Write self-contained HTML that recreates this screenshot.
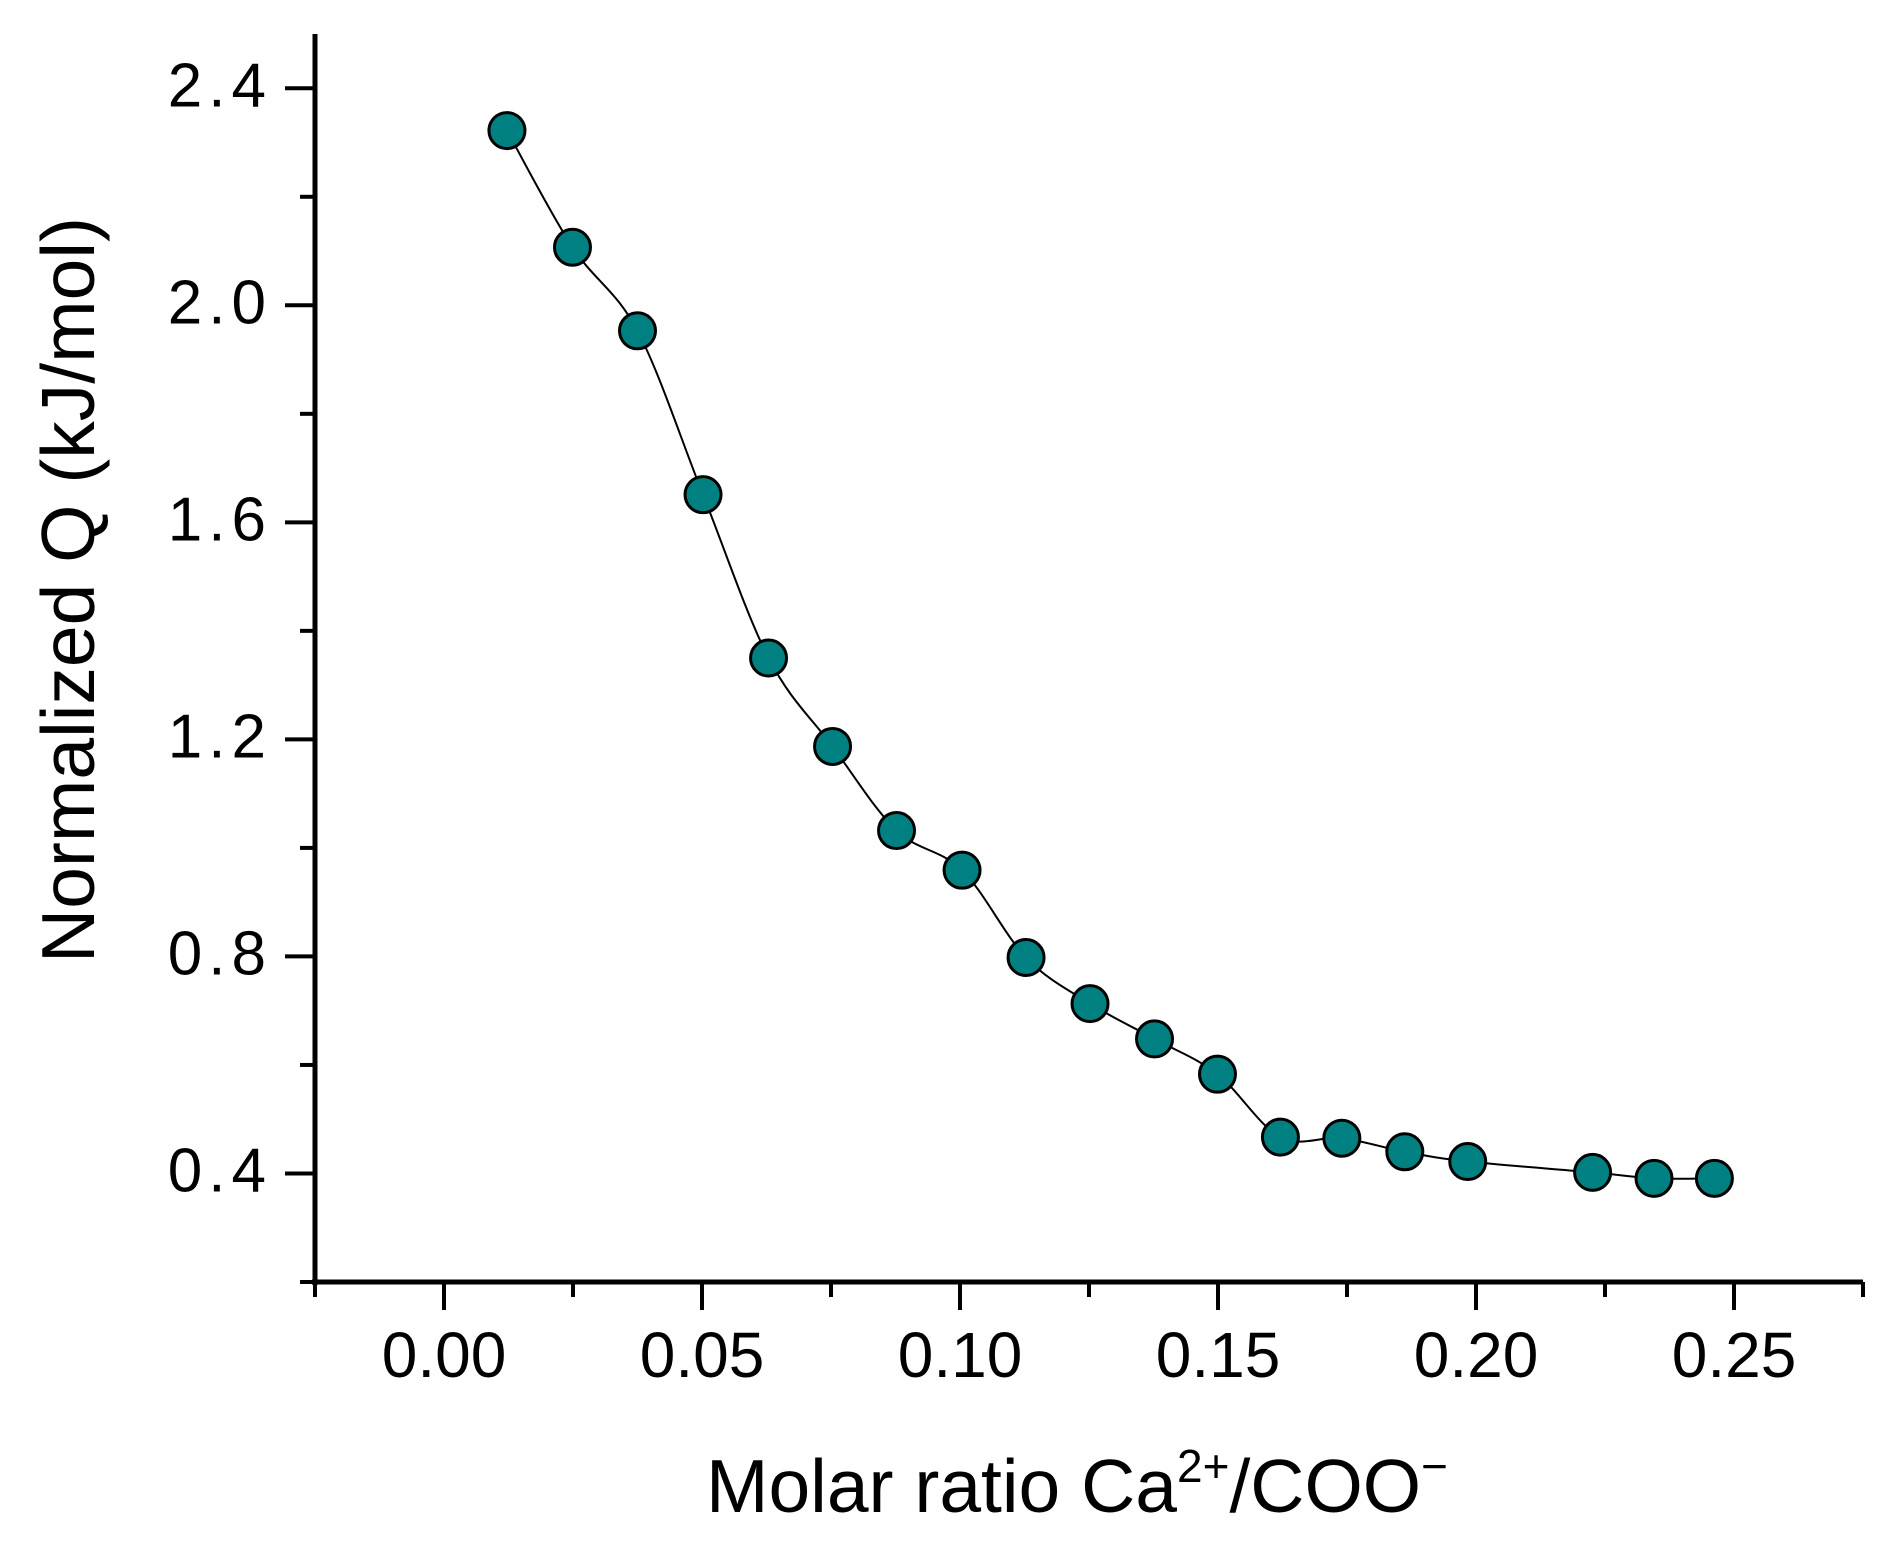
<!DOCTYPE html>
<html><head><meta charset="utf-8"><style>
html,body{margin:0;padding:0;background:#fff;}
svg text{font-family:"Liberation Sans",Arial,sans-serif;fill:#000;}
</style></head><body>
<svg id="chart" width="1897" height="1551" viewBox="0 0 1897 1551" xmlns="http://www.w3.org/2000/svg">
<g id="axes"></g>
<path id="curve" fill="none" stroke="#000" stroke-width="2"/>
<g id="pts"></g>
<text x="1077" y="1512" font-size="75" text-anchor="middle">Molar ratio Ca<tspan dy="-30" font-size="46">2+</tspan><tspan dy="30">/COO</tspan><tspan dy="-30" font-size="46">−</tspan></text>
<text transform="translate(94,590) rotate(-90)" font-size="75" text-anchor="middle">Normalized Q (kJ/mol)</text>
</svg>
<script>
const xData=[0.0122,0.0249,0.0375,0.0502,0.0629,0.0753,0.0877,0.1004,0.1128,0.1252,0.1377,0.1499,0.1621,0.174,0.1862,0.1984,0.2226,0.2345,0.2462];
const yData=[2.322,2.107,1.953,1.651,1.35,1.187,1.032,0.959,0.798,0.713,0.648,0.583,0.467,0.465,0.44,0.422,0.402,0.391,0.391];
const xTicks=[0,0.05,0.10,0.15,0.20,0.25];
const xTickLabels=["0.00","0.05","0.10","0.15","0.20","0.25"];
const yTicks=[0.4,0.8,1.2,1.6,2.0,2.4];
const yTickLabels=["0.4","0.8","1.2","1.6","2.0","2.4"];
const X0=315,X1=1863,Y0=1282,Y1=34,xmin=-0.025,xmax=0.275,ymin=0.2,ymax=2.5;
const sx=v=>X0+(v-xmin)/(xmax-xmin)*(X1-X0);
const sy=v=>Y0-(v-ymin)/(ymax-ymin)*(Y0-Y1);
const NS="http://www.w3.org/2000/svg";
const ax=document.getElementById('axes');
function mk(tag,at,parent){const e=document.createElementNS(NS,tag);for(const k in at)e.setAttribute(k,at[k]);parent.appendChild(e);return e;}
let e=mk('line',{x1:X0,y1:Y1,x2:X0,y2:Y0+3,stroke:'#000','stroke-width':5},ax);


e=mk('line',{x1:X0-3,y1:Y0,x2:X1,y2:Y0,stroke:'#000','stroke-width':5},ax);


for(let v=-0.025;v<=0.2751;v+=0.025){const major=Math.abs(Math.round(v/0.05)*0.05-v)<1e-6;
 e=mk('line',{x1:sx(v),y1:Y0,x2:sx(v),y2:Y0+(major?28:15),stroke:'#000','stroke-width':4},ax);
 
 }
xTicks.forEach((v,i)=>{e=mk('text',{x:sx(v),y:1377,'font-size':64,'text-anchor':'middle'},ax);e.textContent=xTickLabels[i];
 
 });
for(let v=0.2;v<=2.5001;v+=0.2){const major=Math.abs(Math.round((v-0.4)/0.4)*0.4-(v-0.4))<1e-6;
 e=mk('line',{x1:X0,y1:sy(v),x2:X0-(major?30:15),y2:sy(v),stroke:'#000','stroke-width':4},ax);
 
 }
yTicks.forEach((v,i)=>{e=mk('text',{x:272,y:sy(v)+18,'font-size':62,'text-anchor':'end','letter-spacing':6},ax);e.textContent=yTickLabels[i];
 
 });
const P=xData.map((x,i)=>[sx(x),sy(yData[i])]);
let d='M'+P[0][0]+','+P[0][1];
for(let i=0;i<P.length-1;i++){const p0=P[i-1]||P[i],p1=P[i],p2=P[i+1],p3=P[i+2]||P[i+1];
 d+=` C${p1[0]+(p2[0]-p0[0])/6},${p1[1]+(p2[1]-p0[1])/6} ${p2[0]-(p3[0]-p1[0])/6},${p2[1]-(p3[1]-p1[1])/6} ${p2[0]},${p2[1]}`;}
document.getElementById('curve').setAttribute('d',d);
const g=document.getElementById('pts');
P.forEach(p=>{const c=mk('circle',{cx:p[0],cy:p[1],r:18,fill:'#008080',stroke:'#000','stroke-width':3},g);
 
 });
</script>
</body></html>
